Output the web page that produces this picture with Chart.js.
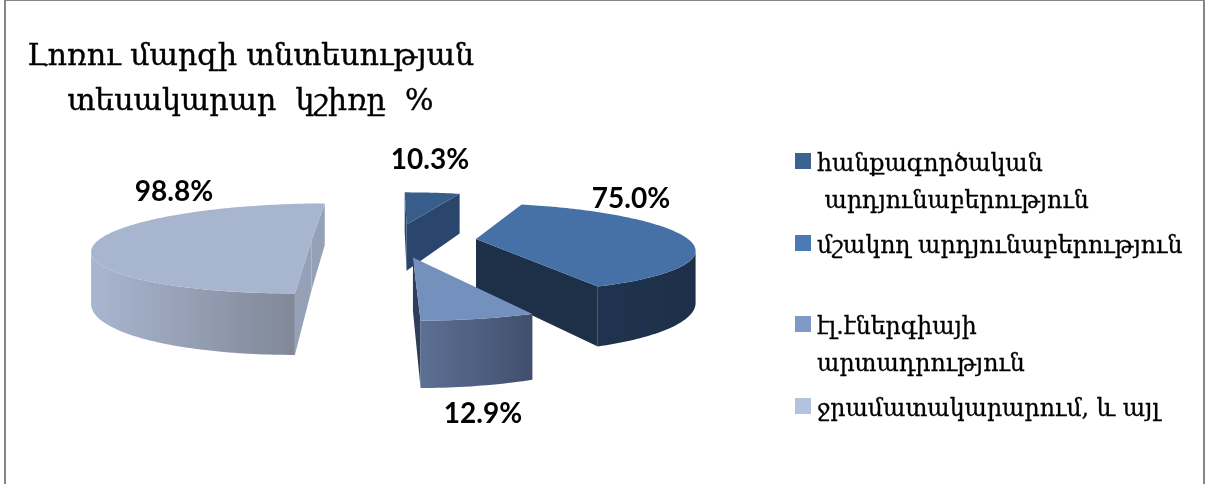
<!DOCTYPE html>
<html>
<head>
<meta charset="utf-8">
<title>Լոռու մարզ</title>
<script src="https://cdn.jsdelivr.net/npm/chart.js@4"></script>
<style>
  html, body { margin: 0; padding: 0; background: #fff; overflow: hidden; }
  #wrap { position: relative; width: 1205px; height: 484px; overflow: hidden; }
  #frame { position: absolute; left: 4px; top: 0; width: 1197px; height: 600px; border: 2px solid #868686; border-top-width: 1px; }
  #chartBox { position: absolute; left: 0; top: 0; width: 1205px; height: 484px; }
  #title { position: absolute; left: 0; top: 32px; width: 501px; text-align: center; font: 30px/45px "DejaVu Serif", serif; -webkit-text-stroke: 0.4px #000; color: #000; white-space: pre; }
  .legendSwatch { position: absolute; left: 795px; width: 16px; height: 16px; }
  .legendText { position: absolute; left: 817px; font: 23.6px/37px "DejaVu Serif", serif; -webkit-text-stroke: 0.3px #000; color: #000; white-space: pre; }
</style>
</head>
<body>
<div id="wrap">
  <div id="frame"></div>
  <div id="chartBox"><canvas id="myChart"></canvas></div>
  <div id="title"></div>
</div>
<script>
  var titleLines = ['Լոռու մարզի տնտեսության', 'տեսակարար  կշիռը  %'];
  var categories = [
    ['հանքագործական', ' արդյունաբերություն'],
    ['մշակող արդյունաբերություն'],
    ['էլ.էներգիայի', 'արտադրություն'],
    ['ջրամատակարարում, և այլ']
  ];
  var values = [10.3, 75.0, 12.9, 98.8];

  // colours
  var topColors = ['#385D8A', '#4571A6', '#7491BD', '#A8B5CF'];
  var legendColors = ['#3B6291', '#4A7BB5', '#7F9AC6', '#B3C2DE'];
  var sideColors = ['#2A466C', '#1E3048', '#2F3E58', '#95A1B7'];
  var wallFrom = ['#2A466C', '#1F3350', '#5C7094', '#A9B6D0'];
  var wallTo = ['#2A466C', '#1E3048', '#414F6C', '#808898'];

  // where the value labels sit, same order as values
  var labelCenters = [[430, 160], [631, 199], [483, 414], [174, 192]];
  var legendTops = [153, 235, 316, 398];
  var drawOrder = [0, 3, 1, 2];

  // perspective of the pie plane
  var horizonY = 11, vanishX = 394;
  var unitR = 0.93, depthMid = 0.00437, depthPerUnit = 0.00089, wallHeight = 0.2176;

  function project(dx, dy, r) {
    var u = unitR * dx / r;
    var s = 1 / (depthMid - depthPerUnit * unitR * dy / r);
    return { x: vanishX + u * s, y: horizonY + s, b: horizonY + s + wallHeight * s };
  }

  function fillPoly(ctx, top, bottom, color) {
    ctx.beginPath();
    top.forEach(function (p, i) { i ? ctx.lineTo(p.x, p.y) : ctx.moveTo(p.x, p.y); });
    if (bottom) {
      for (var i = bottom.length - 1; i >= 0; i--) ctx.lineTo(bottom[i].x, bottom[i].b);
    }
    ctx.closePath();
    ctx.fillStyle = color;
    ctx.fill();
  }

  // pie drawn as a lifted 3d pie from the arc elements chart.js laid out
  var pie3d = {
    id: 'pie3d',
    beforeDatasetsDraw: function (chart) {
      var ctx = chart.ctx;
      var arcs = chart.getDatasetMeta(0).data;
      ctx.save();
      drawOrder.forEach(function (i) {
        var el = arcs[i];
        var p = el.getProps(['startAngle', 'endAngle', 'outerRadius'], true);
        var r = p.outerRadius, off = el.options.offset;
        var mid = (p.startAngle + p.endAngle) / 2;
        var ox = off * Math.cos(mid), oy = off * Math.sin(mid);
        var v = project(ox, oy, r);
        var rim = [];
        var steps = Math.max(4, Math.ceil((p.endAngle - p.startAngle) / 0.02));
        for (var k = 0; k <= steps; k++) {
          var a = p.startAngle + (p.endAngle - p.startAngle) * k / steps;
          rim.push(project(ox + r * Math.cos(a), oy + r * Math.sin(a), r));
        }
        var first = rim[0], last = rim[rim.length - 1];
        // an edge is seen from the front when it runs right to left
        if (first.x < v.x) fillPoly(ctx, [v, first], [v, first], sideColors[i]);
        if (v.x < last.x) fillPoly(ctx, [last, v], [last, v], sideColors[i]);
        var run = [];
        var flush = function () {
          if (run.length > 1) {
            var g = ctx.createLinearGradient(run[run.length - 1].x, 0, run[0].x, 0);
            g.addColorStop(0, wallFrom[i]);
            g.addColorStop(1, wallTo[i]);
            fillPoly(ctx, run, run, g);
          }
          run = [];
        };
        for (var n = 0; n < rim.length - 1; n++) {
          if (rim[n + 1].x < rim[n].x) {
            if (!run.length) run.push(rim[n]);
            run.push(rim[n + 1]);
          } else {
            flush();
          }
        }
        flush();
        fillPoly(ctx, [v].concat(rim), null, el.options.backgroundColor);
      });
      ctx.font = 'bold 28px Lato, "Open Sans", sans-serif';
      ctx.fillStyle = '#000';
      ctx.textAlign = 'center';
      ctx.textBaseline = 'middle';
      values.forEach(function (val, i) {
        ctx.fillText(val.toFixed(1) + '%', labelCenters[i][0], labelCenters[i][1]);
      });
      ctx.restore();
      return false;
    }
  };

  document.getElementById('title').textContent = titleLines.join('\n');

  var wrap = document.getElementById('wrap');
  categories.forEach(function (lines, i) {
    var sw = document.createElement('div');
    sw.className = 'legendSwatch';
    sw.style.top = legendTops[i] + 'px';
    sw.style.background = legendColors[i];
    wrap.appendChild(sw);
    var tx = document.createElement('div');
    tx.className = 'legendText';
    tx.style.top = (legendTops[i] - 8) + 'px';
    tx.textContent = lines.join('\n');
    wrap.appendChild(tx);
  });

  new Chart(document.getElementById('myChart').getContext('2d'), {
    type: 'pie',
    data: {
      labels: categories.map(function (l) { return l.join(' '); }),
      datasets: [{
        data: values,
        backgroundColor: topColors,
        borderWidth: 0,
        offset: 38.7
      }]
    },
    options: {
      responsive: true,
      maintainAspectRatio: false,
      animation: false,
      radius: 100,
      rotation: 0,
      plugins: {
        legend: { display: false },
        title: { display: false },
        tooltip: { enabled: false }
      }
    },
    plugins: [pie3d]
  });
</script>
</body>
</html>
